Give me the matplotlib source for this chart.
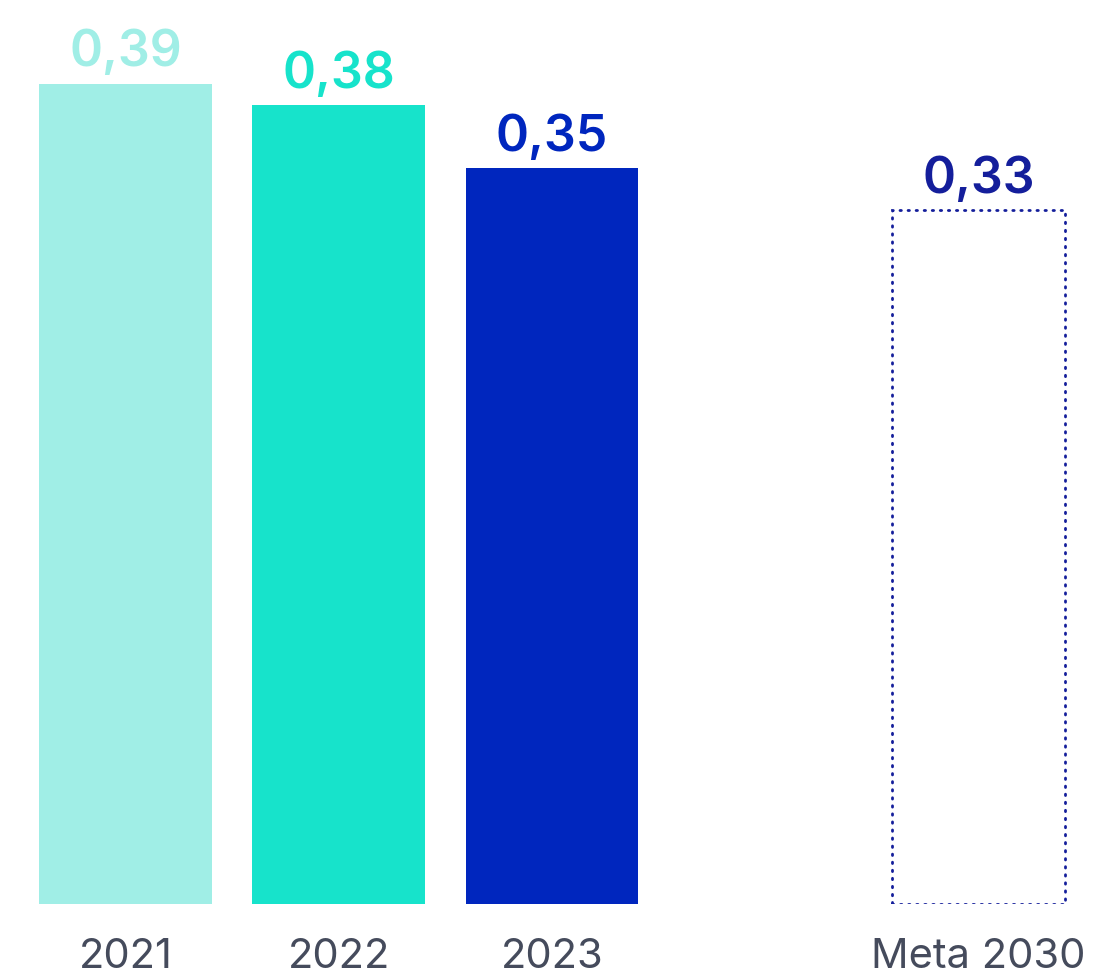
import matplotlib.pyplot as plt
import numpy as np

years = ['2021', '2022', '2023', 'Meta 2030']
values = [0.39, 0.38, 0.35, 0.33]
value_labels = ['0,39', '0,38', '0,35', '0,33']
positions = [0, 1, 2, 4]
colors = ['#A0EEE6', '#17E3CB', '#0026BE', '#141E9B']

plt.rcParams['font.family'] = ['Inter', 'DejaVu Sans']

fig = plt.figure(figsize=(11.02, 9.78), dpi=100)
ax = fig.add_axes([0, 73 / 978, 1, 905 / 978])

# real bars
ax.bar(positions[:3], values[:3], width=0.81, color=colors[:3])
# target bar: dotted outline only
target = ax.bar(positions[3], values[3], width=0.81, facecolor='none', edgecolor=colors[3],
                linewidth=2, linestyle=(0, (0.5, 2.4)))
target[0].set_capstyle('round')

for x, v, lab, c in zip(positions, values, value_labels, colors):
    ax.annotate(lab, (x, v), xytext=(0, 6), textcoords='offset points',
                ha='center', va='bottom', fontsize=36, fontweight='semibold', color=c)

ax.set_xlim(-125.5 / 213.25, (1102 - 125.5) / 213.25)
ax.set_ylim(0, 905 / 2103)
ax.set_xticks(positions)
ax.set_xticklabels(years, fontsize=30, color='#454B5C')
ax.tick_params(axis='x', length=0, pad=24)
ax.set_yticks([])
for s in ax.spines.values():
    s.set_visible(False)

plt.savefig('out.png', dpi=100)
